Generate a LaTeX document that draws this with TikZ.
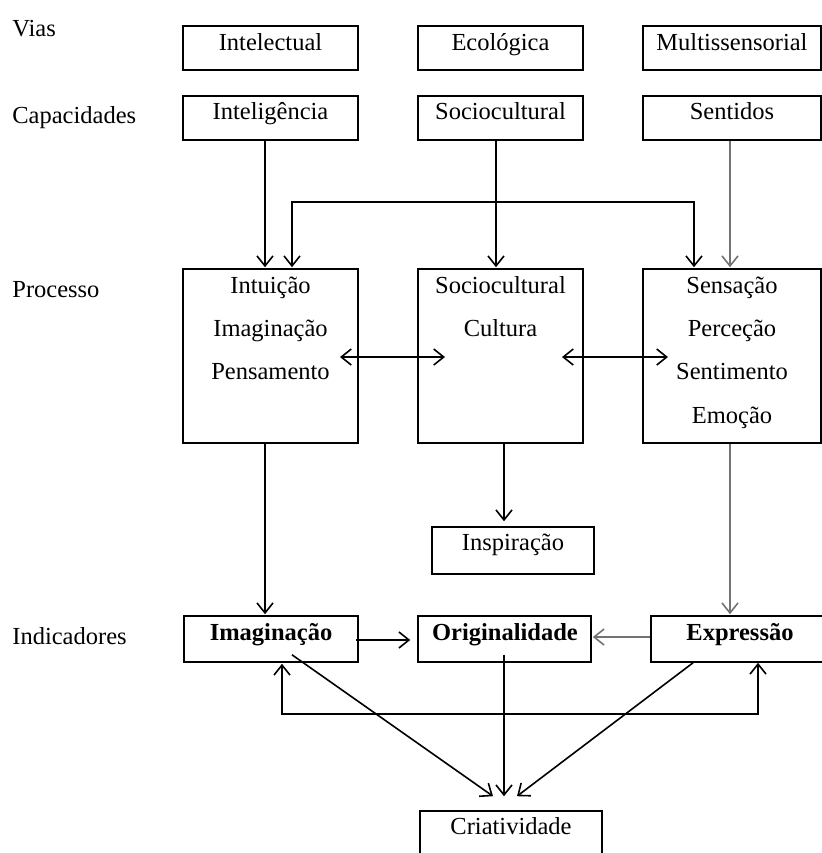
\documentclass[tikz,border=0pt]{standalone}
\usepackage{fontspec}
\setmainfont{Liberation Serif}
\usetikzlibrary{arrows.meta,calc}
\begin{document}
\begin{tikzpicture}[x=0.5pt,y=-0.5pt,
  box/.style={draw, line width=0.8pt, inner sep=0pt},
  txt/.style={anchor=base, inner sep=0pt, font=\fontsize{12.25}{14}\selectfont},
  btxt/.style={anchor=base, inner sep=0pt, font=\fontsize{12.25}{14}\selectfont\bfseries},
  lbl/.style={anchor=base west, inner sep=0pt, font=\fontsize{12.25}{14}\selectfont},
  con/.style={line width=0.8pt},
  arr/.style={con, -{Straight Barb[length=5pt,width=8pt]}},
  darr/.style={con, {Straight Barb[length=5pt,width=8pt]}-{Straight Barb[length=5pt,width=8pt]}},
  gry/.style={draw=black!55}]

\useasboundingbox (0,0) rectangle (822,853);
\clip (0,0) rectangle (822,853);

% row labels
\node[lbl] (lv) at (12,36) {Vias};
\node[lbl] (lc) at (12,123) {Capacidades};
\node[lbl] (lp) at (12,297) {Processo};
\node[lbl] (li) at (12,644) {Indicadores};

% Vias row
\node[box, minimum width=87.5pt, minimum height=22pt] (v1) at (270.5,48) {};
\node[box, minimum width=82.5pt, minimum height=22pt] (v2) at (500.5,48) {};
\node[box, minimum width=89pt, minimum height=22pt] (v3) at (732,48) {};
\node[txt] (tv1) at (270.5,50) {Intelectual};
\node[txt] (tv2) at (500.5,50) {Ecológica};
\node[txt] (tv3) at (732,50) {Multissensorial};

% Capacidades row
\node[box, minimum width=87.5pt, minimum height=22pt] (c1) at (270.5,118) {};
\node[box, minimum width=82.5pt, minimum height=22pt] (c2) at (500.5,118) {};
\node[box, minimum width=89pt, minimum height=22pt] (c3) at (732,118) {};
\node[txt] (tc1) at (270.5,119) {Inteligência};
\node[txt] (tc2) at (500.5,119) {Sociocultural};
\node[txt] (tc3) at (732,119) {Sentidos};

% Processo row
\node[box, minimum width=87.5pt, minimum height=87pt] (p1) at (270.5,356) {};
\node[box, minimum width=82.5pt, minimum height=87pt] (p2) at (500.5,356) {};
\node[box, minimum width=89pt, minimum height=87pt] (p3) at (732,356) {};
\node[txt] (tp1a) at (270.5,293) {Intuição};
\node[txt] (tp1b) at (270.5,336) {Imaginação};
\node[txt] (tp1c) at (270.5,379) {Pensamento};
\node[txt] (tp2a) at (500.5,293) {Sociocultural};
\node[txt] (tp2b) at (500.5,336) {Cultura};
\node[txt] (tp3a) at (732,293) {Sensação};
\node[txt] (tp3b) at (732,336) {Perceção};
\node[txt] (tp3c) at (732,379) {Sentimento};
\node[txt] (tp3d) at (732,423) {Emoção};

% Inspiracao
\node[box, minimum width=81pt, minimum height=23.5pt] (insp) at (513,550.5) {};
\node[txt] (tinsp) at (513,550) {Inspiração};

% Indicadores row
\node[box, minimum width=87pt, minimum height=23pt] (imag) at (271,639) {};
\node[box, minimum width=86.5pt, minimum height=23pt] (orig) at (504.5,639) {};
\node[box, minimum width=92pt, minimum height=23pt] (exp) at (743,639) {};
\node[btxt] (timag) at (271,640) {Imaginação};
\node[btxt] (torig) at (505,640) {Originalidade};
\node[btxt] (texp) at (740,640) {Expressão};

% Criatividade
\node[box, minimum width=91pt, minimum height=23.5pt] (cria) at (511,834.5) {};
\node[txt] (tcria) at (511,834) {Criatividade};

% connectors: capacidades -> processo
\draw[arr] ($(c1.south)+(-5.5,0)$) -- ($(p1.north)+(-5.5,-1)$);
\draw[arr] ($(c2.south)+(-4.5,0)$) -- ($(p2.north)+(-4.5,-1)$);
\draw[arr,gry] ($(c3.south)+(-2,0)$) -- ($(p3.north)+(-2,-1)$);
% feedback loop on top
\draw[darr] ($(p1.north)+(21.5,-1)$) -- ++(0,-65) -| ($(p3.north)+(-38,-1)$);
% bidirectional between process boxes
\draw[darr] ($(p1.center)+(69.5,1)$) -- ($(p2.center)+(-55.5,1)$);
\draw[darr] ($(p2.center)+(61.5,1)$) -- ($(p3.center)+(-64,1)$);
% process -> inspiracao
\draw[arr] ($(p2.south)+(3.5,0)$) -- ($(insp.north)+(-9,-5)$);
% process -> indicadores
\draw[arr] ($(p1.south)+(-5.5,0)$) -- ($(imag.north)+(-6,-1)$);
\draw[arr,gry] ($(p3.south)+(-2,0)$) -- ($(exp.north)+(-13,-1)$);
% indicadores interactions
\draw[arr] ($(imag.east)+(-3,1)$) -- ($(orig.west)+(-7,1)$);
\draw[arr,gry] ($(exp.west)+(0,-2)$) -- ($(orig.east)+(1,-2)$);
\draw[darr] ($(imag.south)+(11,1)$) -- ++(0,50) -| ($(exp.south)+(15,0)$);
% to criatividade
\draw[arr] ($(imag.south)+(21,-8)$) -- ($(cria.north)+(-18,-14)$);
\draw[arr] ($(orig.south)+(-0.5,-8)$) -- ($(cria.north)+(-7,-14)$);
\draw[arr] ($(exp.south)+(-50,0)$) -- ($(cria.north)+(6,-14)$);
\end{tikzpicture}
\end{document}
